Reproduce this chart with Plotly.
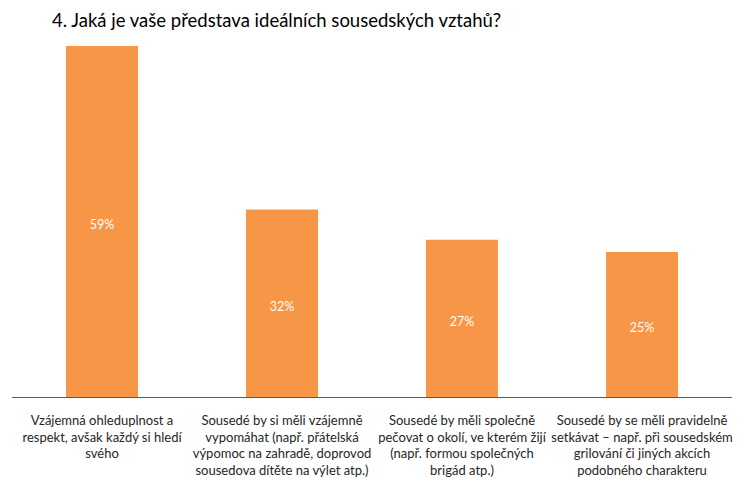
import plotly.graph_objects as go

categories = [
    "Vzájemná ohleduplnost a<br>respekt, avšak každý si hledí<br>svého",
    "Sousedé by si měli vzájemně<br>vypomáhat (např. přátelská<br>výpomoc na zahradě, doprovod<br>sousedova dítěte na výlet atp.)",
    "Sousedé by měli společně<br>pečovat o okolí, ve kterém žijí<br>(např. formou společných<br>brigád atp.)",
    "Sousedé by se měli pravidelně<br>setkávat – např. při sousedském<br>grilování či jiných akcích<br>podobného charakteru",
]
values = [59, 32, 27, 25]
labels = ["59%", "32%", "27%", "25%"]
title = "4. Jaká je vaše představa ideálních sousedských vztahů?"

fig = go.Figure(go.Bar(
    x=categories, y=values, text=labels,
    textposition="inside", insidetextanchor="middle",
    textfont=dict(color="white", size=12.5, family="Lato"),
    marker=dict(color="#F79646", line=dict(width=0)),
    width=0.4, cliponaxis=True,
))

fig.update_layout(
    width=746, height=488,
    margin=dict(l=4, r=22, t=32, b=99, autoexpand=False),
    paper_bgcolor="white", plot_bgcolor="white",
    showlegend=False,
    font=dict(family="Lato", color="#262626"),
    title=dict(text=title, x=44/746, xanchor="left", y=1 - 13/488, yanchor="middle",
               font=dict(size=18.5, family="Lato", color="black")),
    xaxis=dict(showline=True, linecolor="#595959", linewidth=1, ticks="outside",
               ticklen=11, tickcolor="rgba(0,0,0,0)", tickfont=dict(size=13, color="#262626"),
               showgrid=False, tickangle=0, automargin=False),
    yaxis=dict(range=[1.07, 59.98], visible=False, showgrid=False, automargin=False),
)
fig.write_html("out.html")
